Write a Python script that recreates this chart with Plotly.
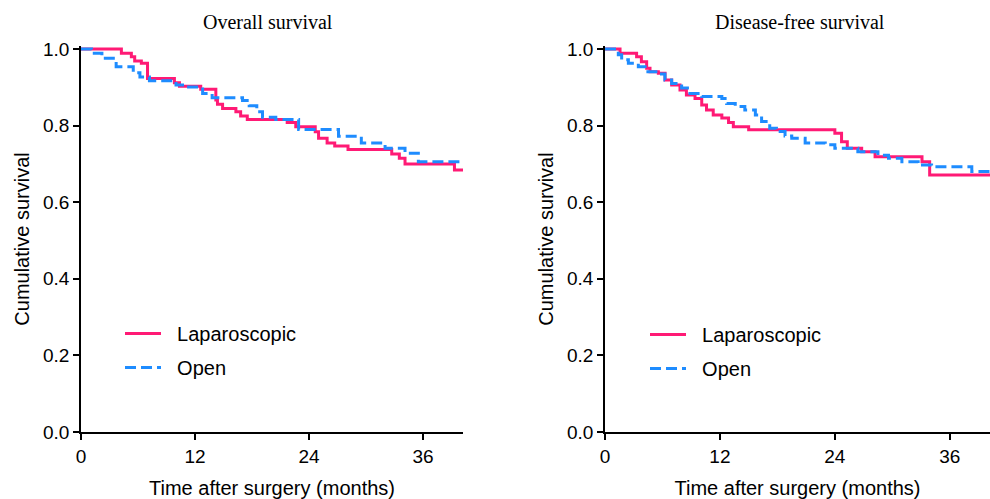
import plotly.graph_objects as go

# ---------------- data ----------------
os_lap_t = [0, 4.25, 5.3, 5.65, 6.35, 7.0, 9.83, 10.36, 12.6, 14.19, 14.36, 14.9, 16.3, 16.8, 17.5,
            21.7, 22.6, 24.65, 25.0, 25.9, 26.7, 28.1, 32.7, 33.5, 34.1, 39.3, 40.2]
os_lap_s = [1.0, 0.989, 0.980, 0.969, 0.963, 0.923, 0.912, 0.903, 0.895, 0.867, 0.856, 0.845, 0.836, 0.825, 0.816,
            0.808, 0.797, 0.784, 0.767, 0.755, 0.747, 0.738, 0.726, 0.715, 0.700, 0.684, 0.684]

os_open_t = [0, 1.1, 2.2, 3.7, 5.5, 6.2, 7.2, 10.0, 11.05, 12.8, 13.8, 17.0, 17.7, 18.5, 19.1, 20.5,
             22.9, 27.1, 29.5, 32.0, 34.1, 35.5, 40.0]
os_open_s = [1.0, 0.989, 0.976, 0.954, 0.938, 0.927, 0.917, 0.906, 0.901, 0.884, 0.873, 0.866, 0.852, 0.836, 0.822, 0.816,
             0.790, 0.772, 0.755, 0.741, 0.728, 0.706, 0.706]

dfs_lap_t = [0, 1.57, 3.3, 3.8, 4.35, 4.7, 5.57, 6.27, 6.96, 7.83, 8.5, 9.4, 10.1, 10.6, 11.3, 12.2, 12.9, 13.4,
             15.0, 24.0, 24.7, 25.3, 26.8, 28.2, 33.1, 33.9, 40.2]
dfs_lap_s = [1.0, 0.989, 0.980, 0.967, 0.950, 0.941, 0.937, 0.919, 0.906, 0.893, 0.880, 0.871, 0.854, 0.841, 0.828, 0.820, 0.808, 0.797,
             0.789, 0.780, 0.758, 0.741, 0.732, 0.719, 0.706, 0.671, 0.671]

dfs_open_t = [0, 1.39, 1.74, 2.44, 3.48, 4.18, 5.9, 6.26, 6.96, 8.0, 8.87, 10.1, 12.2, 12.7, 13.6, 14.6, 15.7, 16.35,
              17.2, 17.9, 18.8, 19.5, 20.9, 23.0, 24.0, 26.4, 28.5, 29.6, 31.0, 32.7, 34.1, 38.3, 40.2]
dfs_open_s = [1.0, 0.985, 0.972, 0.963, 0.954, 0.941, 0.935, 0.919, 0.910, 0.898, 0.884, 0.876, 0.871, 0.858, 0.850, 0.841, 0.828, 0.811,
              0.793, 0.785, 0.773, 0.767, 0.755, 0.750, 0.741, 0.732, 0.723, 0.715, 0.706, 0.697, 0.693, 0.680, 0.680]

x_ticks = [0, 12, 24, 36]
y_ticks = [0.0, 0.2, 0.4, 0.6, 0.8, 1.0]
panel_titles = ["Overall survival", "Disease-free survival"]
series_names = ["Laparoscopic", "Open"]

PINK = "#FF1A75"
BLUE = "#1E8CFF"
NB = "\u00a0\u00a0"

fig = go.Figure()

def add_pair(t1, s1, t2, s2, xa, ya, leg):
    fig.add_trace(go.Scatter(x=t1, y=s1, mode="lines", line=dict(shape="hv", color=PINK, width=3),
                             name=NB + series_names[0], xaxis=xa, yaxis=ya, legend=leg, legendgroup=leg + "a"))
    fig.add_trace(go.Scatter(x=t2, y=s2, mode="lines", line=dict(shape="hv", color=BLUE, width=3, dash="11px,5px"),
                             name=NB + series_names[1], xaxis=xa, yaxis=ya, legend=leg, legendgroup=leg + "b"))

add_pair(os_lap_t, os_lap_s, os_open_t, os_open_s, "x", "y", "legend")
add_pair(dfs_lap_t, dfs_lap_s, dfs_open_t, dfs_open_s, "x2", "y2", "legend2")

W, H = 990, 499
y_bot = 1 - 432 / H
y_top = 1 - 46 / H

SANS = "Liberation Sans, Arial"
SERIF = "Liberation Serif, Times New Roman"

axis_common = dict(showline=True, linecolor="black", linewidth=1.5, ticks="outside", ticklen=6,
                   tickwidth=1.5, tickcolor="black", showgrid=False, zeroline=False,
                   tickfont=dict(family=SANS, size=19, color="black"),
                   automargin=False)

xcommon = dict(axis_common, range=[0, 40.2], tickvals=x_ticks,
               title=dict(text="Time after surgery (months)", standoff=15,
                          font=dict(family=SANS, size=20, color="black")))
ycommon = dict(axis_common, range=[0, 1.008], tickvals=y_ticks, tickformat=".1f",
               title=dict(text="Cumulative survival", standoff=8,
                          font=dict(family=SANS, size=20, color="black")))

legend_common = dict(xanchor="left", yanchor="top", bgcolor="rgba(0,0,0,0)",
                     font=dict(family=SANS, size=20, color="black"),
                     traceorder="grouped", tracegroupgap=5, itemwidth=36)

fig.update_layout(
    width=W, height=H,
    margin=dict(l=0, r=0, t=0, b=0),
    paper_bgcolor="white", plot_bgcolor="white",
    xaxis=dict(xcommon, domain=[81 / W, 463 / W], anchor="y"),
    yaxis=dict(ycommon, domain=[y_bot, y_top], anchor="x"),
    xaxis2=dict(xcommon, domain=[605 / W, 990 / W], anchor="y2"),
    yaxis2=dict(ycommon, domain=[y_bot, y_top], anchor="x2"),
    legend=dict(legend_common, x=120 / W, y=1 - 314 / H),
    legend2=dict(legend_common, x=645 / W, y=1 - 315 / H),
    annotations=[
        dict(text=panel_titles[0], xref="paper", yref="paper", x=268 / W, y=1 - 22 / H,
             xanchor="center", yanchor="middle",
             showarrow=False, font=dict(family=SERIF, size=20, color="black")),
        dict(text=panel_titles[1], xref="paper", yref="paper", x=800 / W, y=1 - 22 / H,
             xanchor="center", yanchor="middle",
             showarrow=False, font=dict(family=SERIF, size=20, color="black")),
    ],
    showlegend=True,
)

fig.write_html("out.html", config={"displayModeBar": False},
               post_script="document.body.style.margin='0';document.body.style.overflow='hidden';")
